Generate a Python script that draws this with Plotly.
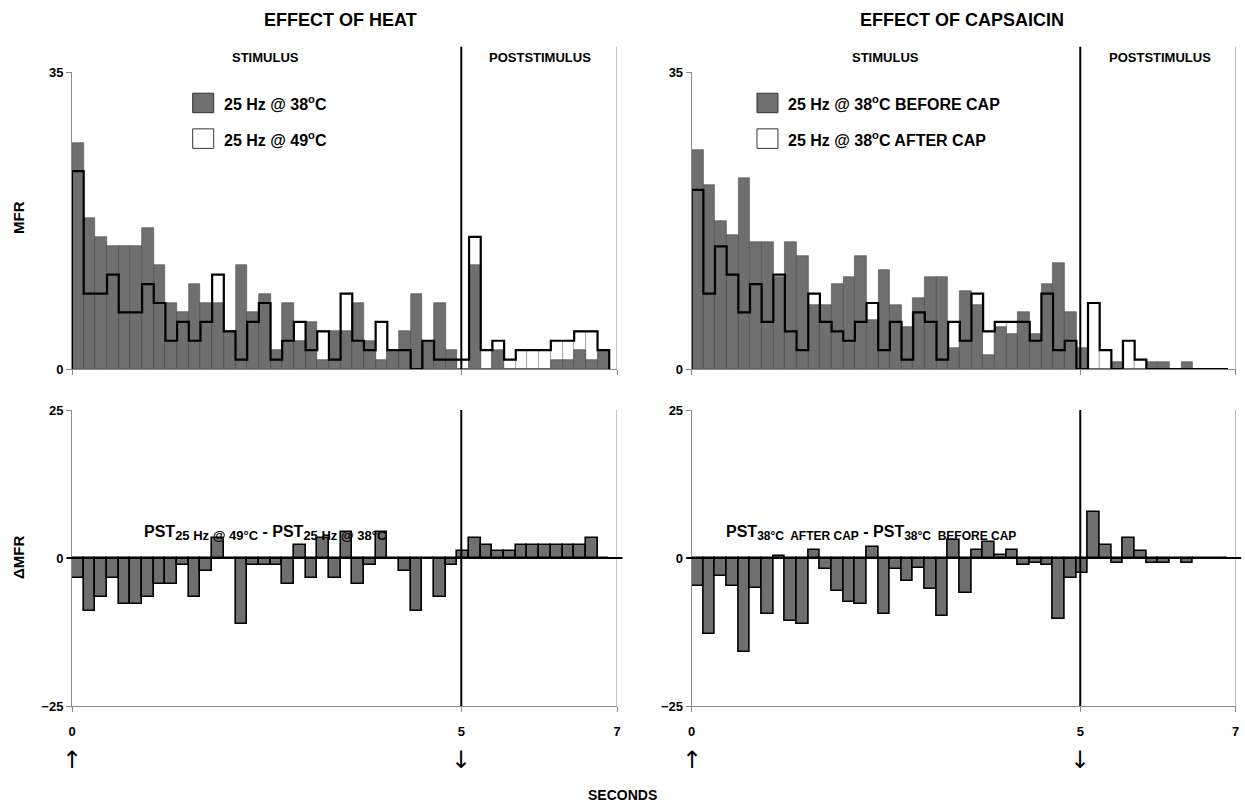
import plotly.graph_objects as go

# ---------------- data ----------------
bin_width = 0.15
bin_starts = [round(i * 0.15, 2) for i in range(46)]

heat_38 = [26.67, 17.78, 15.56, 14.44, 14.44, 14.44, 16.67, 12.22, 7.78, 6.67, 10.0, 7.78, 7.78, 4.44,
           12.22, 6.67, 8.89, 2.22, 7.78, 3.33, 5.56, 1.11, 4.44, 4.44, 7.78, 3.33, 1.11, 2.22, 4.44,
           8.89, 3.33, 7.78, 2.22, 0, 12.22, 0, 2.22, 0, 0, 0, 0, 1.11, 1.11, 2.22, 1.11, 2.22]
heat_49 = [23.33, 8.89, 8.89, 11.11, 6.67, 6.67, 10.0, 7.78, 3.33, 5.56, 3.33, 5.56, 11.11, 4.44,
           1.11, 5.56, 7.78, 1.11, 3.33, 5.56, 2.22, 4.44, 1.11, 8.89, 3.33, 2.22, 5.56, 2.22, 2.22,
           0, 3.33, 1.11, 1.11, 1.11, 15.56, 2.22, 3.33, 1.11, 2.22, 2.22, 2.22, 3.33, 3.33, 4.44, 4.44, 2.22]
heat_diff = [-3.33, -8.89, -6.67, -3.33, -7.78, -7.78, -6.67, -4.44, -4.44, -1.11, -6.67, -2.22, 3.33, 0,
             -11.11, -1.11, -1.11, -1.11, -4.44, 2.22, -3.33, 3.33, -3.33, 4.44, -4.44, -1.11, 4.44, 0,
             -2.22, -8.89, 0, -6.67, -1.11, 1.11, 3.33, 2.22, 1.11, 1.11, 2.22, 2.22, 2.22, 2.22, 2.22,
             2.22, 3.33, 0]

cap_before = [25.83, 21.67, 17.5, 15.83, 22.5, 15.0, 15.0, 10.83, 15.0, 13.33, 7.5, 7.5, 10.0, 10.83,
              13.33, 5.83, 11.67, 7.5, 5.0, 8.33, 10.83, 10.83, 2.5, 9.17, 7.5, 1.67, 5.0, 4.17, 6.67,
              4.17, 10.0, 12.5, 6.67, 2.5, 0, 0, 0.83, 0, 0, 0.83, 0.83, 0, 0.83, 0, 0, 0]
cap_after = [21.11, 8.89, 14.44, 11.11, 6.67, 10.0, 5.56, 11.11, 4.44, 2.22, 8.89, 5.56, 4.44, 3.33,
             5.56, 7.78, 2.22, 5.56, 1.11, 6.67, 5.56, 1.11, 5.56, 3.33, 8.89, 4.44, 5.56, 5.56, 5.56,
             3.33, 8.89, 2.22, 3.33, 0, 7.78, 2.22, 0, 3.33, 1.11, 0, 0, 0, 0, 0, 0, 0]
cap_diff = [-4.72, -12.78, -3.06, -4.72, -15.83, -5.0, -9.44, 0.28, -10.56, -11.11, 1.39, -1.94, -5.56,
            -7.5, -7.78, 1.94, -9.44, -1.94, -3.89, -1.67, -5.28, -9.72, 3.06, -5.83, 1.39, 2.78, 0.56,
            1.39, -1.11, -0.83, -1.11, -10.28, -3.33, -2.5, 7.78, 2.22, -0.83, 3.33, 1.11, -0.83, -0.83,
            0, -0.83, 0, 0, 0]

x_ticks = [0, 5, 7]
top_ticks = [0, 35]
bottom_ticks = [-25, 0, 25]

# ---------------- styling ----------------
FONT = "Liberation Sans, Arial, sans-serif"
GRAY = "#6f6f6f"
AXC = "#8a8a8a"

fig = go.Figure()

panels = [
    ("x", "y", heat_38, heat_49),
    ("x2", "y2", cap_before, cap_after),
]
for xa, ya, gray, white in panels:
    fig.add_trace(go.Bar(x=bin_starts, y=white, width=bin_width, offset=0,
                         marker=dict(color="white", line=dict(color="#9a9a9a", width=0.8)),
                         xaxis=xa, yaxis=ya, showlegend=False))
    fig.add_trace(go.Bar(x=bin_starts, y=gray, width=bin_width, offset=0,
                         marker=dict(color=GRAY, line=dict(color="#4a4a4a", width=0.6)),
                         xaxis=xa, yaxis=ya, showlegend=False))
    sx = [0] + bin_starts + [bin_starts[-1] + bin_width]
    sy = [0] + white + [0]
    fig.add_trace(go.Scatter(x=sx, y=sy, mode="lines", line=dict(color="black", width=2.2, shape="hv"),
                             xaxis=xa, yaxis=ya, showlegend=False, hoverinfo="skip"))

for xa, ya, diff in [("x3", "y3", heat_diff), ("x4", "y4", cap_diff)]:
    fig.add_trace(go.Bar(x=bin_starts, y=diff, width=bin_width, offset=0,
                         marker=dict(color=GRAY, line=dict(color="black", width=1.6)),
                         xaxis=xa, yaxis=ya, showlegend=False))

W, H = 1245, 806
xl = [72 / W, 617 / W]
xr = [691.7 / W, 1235.7 / W]
yt = [(H - 369) / H, (H - 72) / H]
yb = [(H - 706) / H, (H - 410) / H]

tickfont = dict(family=FONT, size=13, color="black", weight="bold")


def xax(dom, anchor, labels):
    return dict(domain=dom, anchor=anchor, range=[0, 7], tickvals=x_ticks, showticklabels=labels,
                ticks="outside", ticklen=5, tickcolor=AXC, showline=True, linecolor=AXC, linewidth=1,
                showgrid=False, zeroline=False, tickfont=tickfont, fixedrange=True, automargin=False,
                ticklabelstandoff=8)


def yax(dom, anchor, rng, tv):
    return dict(domain=dom, anchor=anchor, range=rng, tickvals=tv, ticks="outside", ticklen=5,
                tickcolor=AXC, showline=True, linecolor=AXC, linewidth=1, showgrid=False,
                zeroline=False, tickfont=tickfont, fixedrange=True, automargin=False)


fig.update_layout(
    template="none", barmode="overlay", bargap=0,
    width=W, height=H, autosize=False,
    margin=dict(l=0, r=0, t=0, b=0, pad=0, autoexpand=False),
    paper_bgcolor="white", plot_bgcolor="white", showlegend=False,
    xaxis=xax(xl, "y", False), yaxis=yax(yt, "x", [0, 35], top_ticks),
    xaxis2=xax(xr, "y2", False), yaxis2=yax(yt, "x2", [0, 35], top_ticks),
    xaxis3=xax(xl, "y3", True), yaxis3=yax(yb, "x3", [-25, 25], bottom_ticks),
    xaxis4=xax(xr, "y4", True), yaxis4=yax(yb, "x4", [-25, 25], bottom_ticks),
)

shapes = []
for xa, ya, top_ext in [("x", "y", 1.085), ("x2", "y2", 1.085), ("x3", "y3", 1.0), ("x4", "y4", 1.0)]:
    shapes.append(dict(type="line", xref=xa, yref=f"{ya} domain", x0=5, x1=5, y0=0, y1=top_ext,
                       line=dict(color="black", width=2)))
    shapes.append(dict(type="line", xref=xa, yref=f"{ya} domain", x0=7, x1=7, y0=0, y1=top_ext,
                       line=dict(color=AXC, width=1)))
for xa, ya in [("x3", "y3"), ("x4", "y4")]:
    shapes.append(dict(type="line", xref=f"{xa} domain", yref=ya, x0=-0.01, x1=1.01, y0=0, y1=0,
                       line=dict(color="black", width=1.8)))

# legend boxes
for xa, ya, x0, x1 in [("x", "y", 1.55, 1.82), ("x2", "y2", 0.84, 1.11)]:
    shapes.append(dict(type="rect", xref=xa, yref=ya, x0=x0, x1=x1, y0=30.2, y1=32.5,
                       fillcolor=GRAY, line=dict(color="#333333", width=1)))
    shapes.append(dict(type="rect", xref=xa, yref=ya, x0=x0, x1=x1, y0=26.0, y1=28.3,
                       fillcolor="white", line=dict(color="#333333", width=1)))
fig.update_layout(shapes=shapes)

ann = []


def txt(text, x, y, size, xref="paper", yref="paper", xanchor="center", yanchor="middle", angle=0):
    ann.append(dict(text=text, x=x, y=y, xref=xref, yref=yref, xanchor=xanchor, yanchor=yanchor,
                    showarrow=False, textangle=angle,
                    font=dict(family=FONT, size=size, color="black", weight="bold")))


txt("EFFECT OF HEAT", 340 / W, 1 - 20 / H, 18)
txt("EFFECT OF CAPSAICIN", 962 / W, 1 - 20 / H, 18)
txt("STIMULUS", 265 / W, 1 - 57 / H, 13)
txt("POSTSTIMULUS", 540 / W, 1 - 57 / H, 13)
txt("STIMULUS", 885 / W, 1 - 57 / H, 13)
txt("POSTSTIMULUS", 1160 / W, 1 - 57 / H, 13)
txt("MFR", 18 / W, 1 - 218 / H, 15, angle=-90)
txt("ΔMFR", 18 / W, 1 - 558 / H, 15, angle=-90)
txt("SECONDS", 622 / W, 11 / H, 14)

txt("25 Hz @ 38<sup>o</sup>C", 1.93, 31.35, 16, xref="x", yref="y", xanchor="left")
txt("25 Hz @ 49<sup>o</sup>C", 1.93, 27.15, 16, xref="x", yref="y", xanchor="left")
txt("25 Hz @ 38<sup>o</sup>C BEFORE CAP", 1.21, 31.35, 16, xref="x2", yref="y2", xanchor="left")
txt("25 Hz @ 38<sup>o</sup>C AFTER CAP", 1.21, 27.15, 16, xref="x2", yref="y2", xanchor="left")

SUB = '<span style="font-size:13px">'
SUB2 = '<span style="font-size:12px">'
txt(f"PST<sub>{SUB}25 Hz @ 49°C</span></sub> - PST<sub>{SUB}25 Hz @ 38°C</span></sub>",
    0.9, 4.2, 16, xref="x3", yref="y3", xanchor="left")
txt(f"PST<sub>{SUB2}38°C  AFTER CAP</span></sub> - PST<sub>{SUB2}38°C  BEFORE CAP</span></sub>",
    0.41, 4.2, 16, xref="x4", yref="y4", xanchor="left")

for xa, xv, ch in [("x3", 0, "↑"), ("x3", 5, "↓"), ("x4", 0, "↑"), ("x4", 5, "↓")]:
    ann.append(dict(text=ch, x=xv, y=46 / H, xref=xa, yref="paper", showarrow=False,
                    xanchor="center", yanchor="middle",
                    font=dict(family="DejaVu Sans", size=24, color="black")))

fig.update_layout(annotations=ann)

fig.write_html("out.html", config={"responsive": False})
